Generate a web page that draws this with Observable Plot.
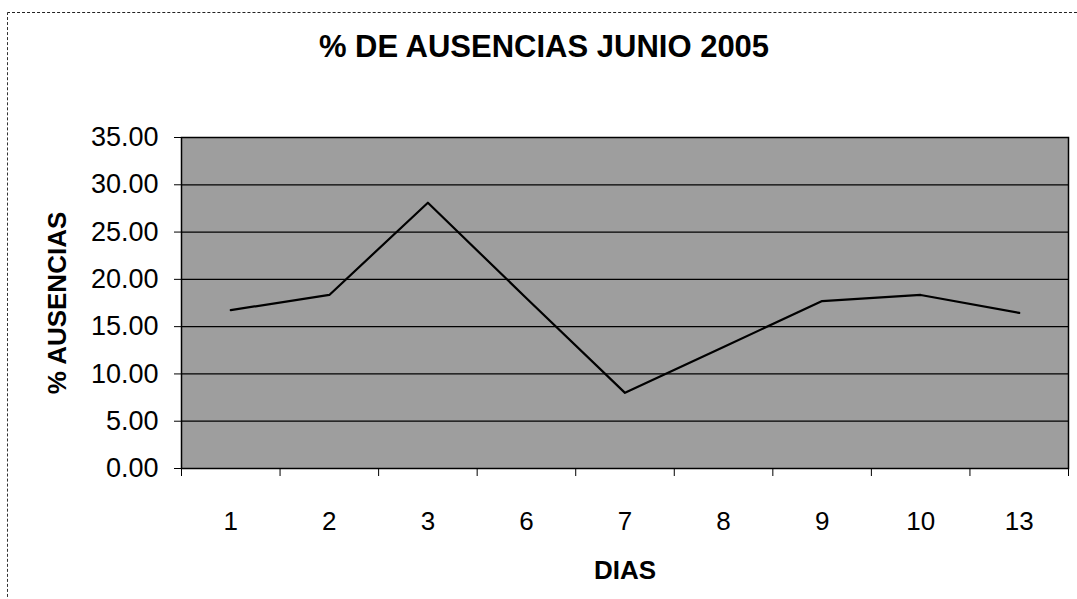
<!DOCTYPE html>
<html>
<head>
<meta charset="utf-8">
<script src="https://cdn.jsdelivr.net/npm/d3@7"></script>
<script src="https://cdn.jsdelivr.net/npm/@observablehq/plot@0.6"></script>
<style>
  html, body { margin: 0; padding: 0; background: #fff; }
  #wrap { position: relative; width: 1077px; height: 599px; overflow: hidden; font-family: 'Liberation Sans', Arial, sans-serif; }
  #border { position: absolute; left: 7px; top: 12px; width: 1080px; height: 600px; border-top: 1px dashed #222; border-left: 1px dashed #333; box-sizing: border-box; }
  #title { position: absolute; top: 31px; left: 544px; transform: translateX(-50%); font-size: 31px; font-weight: bold; line-height: 1; white-space: nowrap; color: #000; }
  #chart { position: absolute; left: 0; top: 0; }
</style>
</head>
<body>
<div id="wrap">
  <div id="border"></div>
  <div id="chart"></div>
  <div id="title">% DE AUSENCIAS JUNIO 2005</div>
</div>
<script>
const dias = ["1", "2", "3", "6", "7", "8", "9", "10", "13"];
const ausencias = [16.75, 18.35, 28.1, 18.0, 8.0, 12.85, 17.7, 18.35, 16.45];
const yTicks = [0, 5, 10, 15, 20, 25, 30, 35];
const yLabel = "% AUSENCIAS";
const xLabel = "DIAS";

const data = dias.map((d, i) => ({pos: i + 1, dia: d, value: ausencias[i]}));
const boundaries = d3.range(0, dias.length + 1).map(i => i + 0.5);

const svg = Plot.plot({
  width: 1077,
  height: 599,
  marginTop: 137,
  marginLeft: 181,
  marginRight: 9,
  marginBottom: 131,
  x: {domain: [0.5, dias.length + 0.5]},
  y: {domain: [0, 35]},
  style: {fontFamily: "'Liberation Sans', Arial, sans-serif", color: "#000", background: "transparent", overflow: "visible"},
  marks: [
    Plot.frame({fill: "url(#ht)"}),
    Plot.ruleY(yTicks.slice(1, -1), {stroke: "#000", strokeWidth: 1.2}),
    Plot.line(data, {x: "pos", y: "value", stroke: "#000", strokeWidth: 2.2}),
    Plot.frame({stroke: "#000", strokeWidth: 1.5}),
    Plot.axisY(yTicks, {tickFormat: d3.format(".2f"), tickSize: 7, tickPadding: 16, fontSize: 27, label: null}),
    Plot.axisY([], {label: yLabel, labelArrow: "none", labelAnchor: "center", labelOffset: 134, fontSize: 26, fontWeight: "bold", tickSize: 0}),
    Plot.axisX(data.map(d => d.pos), {tickSize: 0, tickPadding: 43, tickFormat: p => dias[p - 1], fontSize: 26, label: null}),
    Plot.axisX(boundaries, {tickSize: 8, tickFormat: () => "", label: xLabel, labelArrow: "none", labelAnchor: "center", labelOffset: 110, fontSize: 26, fontWeight: "bold"})
  ]
});

const ns = "http://www.w3.org/2000/svg";
const defs = document.createElementNS(ns, "defs");
const pat = document.createElementNS(ns, "pattern");
pat.setAttribute("id", "ht");
pat.setAttribute("width", "2");
pat.setAttribute("height", "2");
pat.setAttribute("patternUnits", "userSpaceOnUse");
[[0, 0, 2, 2, "#f2f2f2"], [0, 0, 1, 1, "#4a4a4a"], [1, 1, 1, 1, "#4a4a4a"]].forEach(([x, y, w, h, c]) => {
  const r = document.createElementNS(ns, "rect");
  r.setAttribute("x", x); r.setAttribute("y", y); r.setAttribute("width", w); r.setAttribute("height", h);
  r.setAttribute("fill", c);
  pat.appendChild(r);
});
defs.appendChild(pat);
svg.insertBefore(defs, svg.firstChild);

document.getElementById("chart").appendChild(svg);
</script>
</body>
</html>
